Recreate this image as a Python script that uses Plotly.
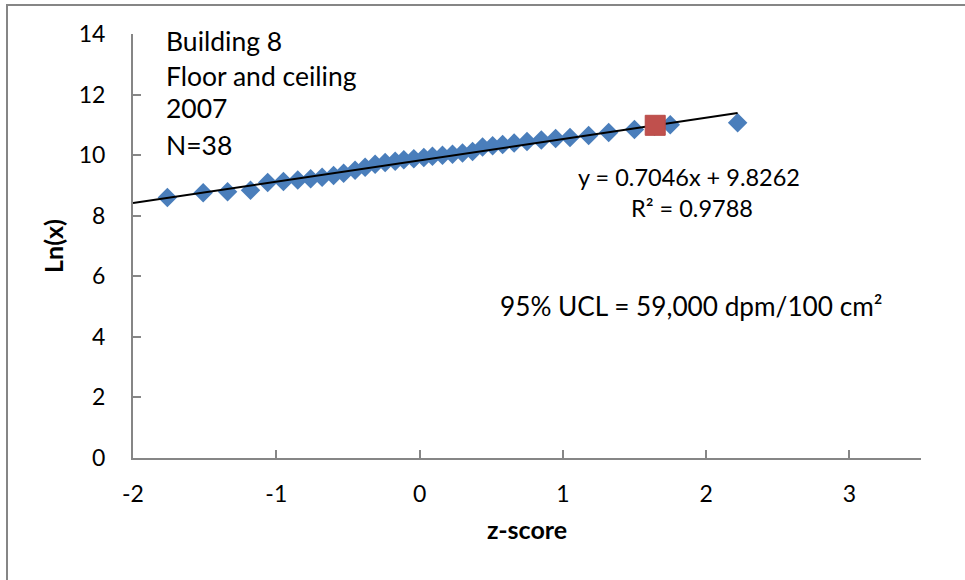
import plotly.graph_objects as go

# ---- data ----
z_scores = [-1.76, -1.51, -1.34, -1.18, -1.06, -0.95, -0.85, -0.76, -0.68, -0.60,
            -0.53, -0.45, -0.38, -0.31, -0.24, -0.17, -0.11, -0.04, 0.03, 0.09,
            0.16, 0.23, 0.30, 0.37, 0.44, 0.51, 0.58, 0.66, 0.75, 0.85,
            0.95, 1.05, 1.18, 1.32, 1.50, 1.64, 1.75, 2.22]
ln_values = [8.60, 8.76, 8.79, 8.84, 9.10, 9.13, 9.18, 9.22, 9.27, 9.33,
             9.40, 9.50, 9.60, 9.70, 9.76, 9.80, 9.85, 9.88, 9.92, 9.96,
             10.00, 10.03, 10.07, 10.12, 10.27, 10.31, 10.35, 10.40, 10.45, 10.50,
             10.55, 10.58, 10.65, 10.75, 10.85, 10.95, 11.00, 11.07]
ucl_z = [1.645]
ucl_ln = [10.985]
slope = 0.7046
intercept = 9.8262
trend_x = [-2.0, max(z_scores)]
trend_y = [slope * v + intercept for v in trend_x]
x_ticks = [-2, -1, 0, 1, 2, 3]
y_ticks = [0, 2, 4, 6, 8, 10, 12, 14]

FONT = "Lato, Carlito, Calibri, sans-serif"
GRAY = "#868686"

fig = go.Figure()
fig.add_trace(go.Scatter(x=z_scores, y=ln_values, mode="markers",
                         marker=dict(symbol="diamond", size=15, color="#4A7EBB"),
                         showlegend=False, hoverinfo="x+y"))
fig.add_trace(go.Scatter(x=trend_x, y=trend_y, mode="lines",
                         line=dict(color="black", width=2),
                         showlegend=False, hoverinfo="skip"))
fig.add_trace(go.Scatter(x=ucl_z, y=ucl_ln, mode="markers",
                         marker=dict(symbol="square", size=20, color="#C0504D",
                                     line=dict(color="#B84A47", width=1)),
                         showlegend=False, hoverinfo="x+y"))

fig.update_layout(
    width=965, height=580,
    margin=dict(l=133, r=44, t=34, b=122),
    paper_bgcolor="white", plot_bgcolor="white",
    font=dict(family=FONT, size=23, color="black"),
    xaxis=dict(range=[-2, 3.5], tickvals=x_ticks, ticktext=[str(v) for v in x_ticks],
               showgrid=False, zeroline=False, showline=True, linecolor=GRAY, linewidth=2,
               ticks="inside", ticklen=8, tickcolor=GRAY, tickwidth=2,
               ticklabelstandoff=14,
               title=dict(text="<b>z-score</b>", font=dict(size=25), standoff=16)),
    yaxis=dict(range=[0, 14], tickvals=y_ticks, ticktext=[str(v) for v in y_ticks],
               showgrid=False, zeroline=False, showline=True, linecolor=GRAY, linewidth=2,
               ticks="inside", ticklen=8, tickcolor=GRAY, tickwidth=2,
               ticklabelstandoff=21,
               title=dict(text="<b>Ln(x)</b>", font=dict(size=25), standoff=8)),
)

def px_x(p):
    return (p - 133) / 788.0

def px_y(p):
    return (458 - p) / 424.0

labels = [("Building 8", 41), ("Floor and ceiling", 76), ("2007", 108), ("N=38", 145)]
for txt, yy in labels:
    fig.add_annotation(x=px_x(164), y=px_y(yy), xref="paper", yref="paper",
                       text=txt, showarrow=False, xanchor="left", yanchor="middle",
                       font=dict(size=26.5))
fig.add_annotation(x=px_x(689), y=px_y(177), xref="paper", yref="paper",
                   text="y = 0.7046x + 9.8262", showarrow=False,
                   xanchor="center", yanchor="middle", font=dict(size=23.5))
fig.add_annotation(x=px_x(692), y=px_y(208), xref="paper", yref="paper",
                   text="R² = 0.9788", showarrow=False,
                   xanchor="center", yanchor="middle", font=dict(size=23.5))
fig.add_annotation(x=px_x(498), y=px_y(306), xref="paper", yref="paper",
                   text="95% UCL = 59,000 dpm/100 cm²", showarrow=False,
                   xanchor="left", yanchor="middle", font=dict(size=26.2))

# outer chart frame (cropped on the right and bottom in the reference)
fig.add_shape(type="rect", xref="paper", yref="paper",
              x0=px_x(7), x1=px_x(968), y0=px_y(585), y1=px_y(5),
              line=dict(color=GRAY, width=2), fillcolor="rgba(0,0,0,0)", layer="below")

fig.write_html("out.html")
